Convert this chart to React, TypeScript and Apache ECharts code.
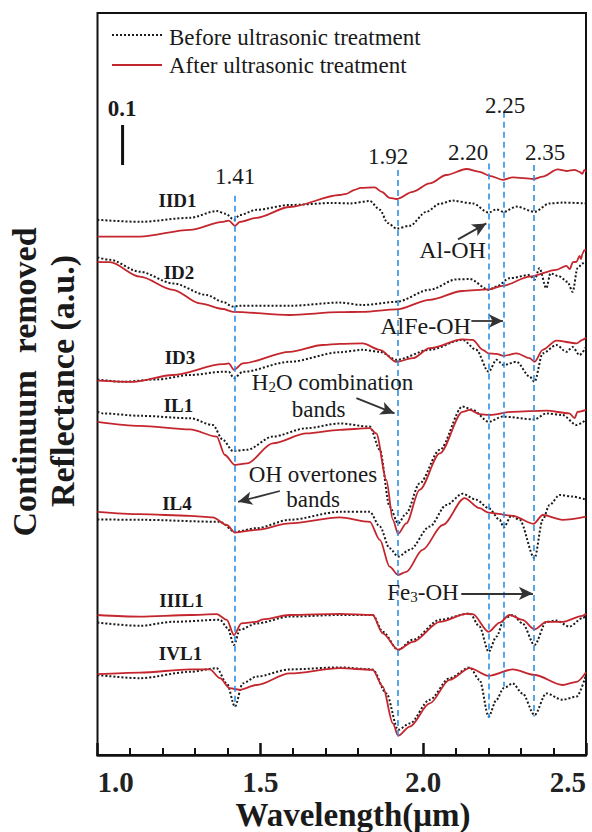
import React, { useEffect, useRef } from 'react';
import * as echarts from 'echarts';

// ---- data: [wavelength (µm), continuum-removed reflectance with vertical offset] ----
const IID1_before = [[1.0,1.338],[1.13,1.333],[1.284,1.343],[1.366,1.36],[1.394,1.353],[1.419,1.338],[1.437,1.35],[1.488,1.363],[1.59,1.375],[1.722,1.38],[1.775,1.379],[1.836,1.385],[1.867,1.363],[1.891,1.33],[1.918,1.316],[1.959,1.323],[2.01,1.358],[2.051,1.378],[2.09,1.386],[2.152,1.379],[2.201,1.356],[2.225,1.364],[2.247,1.358],[2.287,1.371],[2.342,1.358],[2.388,1.379],[2.428,1.381],[2.5,1.379]];
const IID1_after = [[1.0,1.296],[1.13,1.296],[1.284,1.313],[1.385,1.333],[1.403,1.336],[1.422,1.323],[1.437,1.333],[1.488,1.343],[1.59,1.37],[1.744,1.4],[1.764,1.403],[1.79,1.413],[1.808,1.418],[1.851,1.419],[1.873,1.408],[1.897,1.393],[1.918,1.39],[1.968,1.408],[2.02,1.429],[2.071,1.45],[2.133,1.465],[2.173,1.458],[2.204,1.448],[2.244,1.438],[2.275,1.444],[2.339,1.44],[2.367,1.446],[2.413,1.464],[2.44,1.46],[2.465,1.463],[2.48,1.458],[2.489,1.453],[2.495,1.463],[2.5,1.458]];
const ID2_before = [[1.0,1.244],[1.038,1.238],[1.13,1.208],[1.232,1.179],[1.335,1.15],[1.385,1.133],[1.416,1.121],[1.437,1.123],[1.59,1.123],[1.744,1.131],[1.814,1.125],[1.918,1.133],[2.02,1.163],[2.102,1.189],[2.143,1.19],[2.201,1.163],[2.225,1.171],[2.265,1.192],[2.327,1.2],[2.342,1.188],[2.357,1.217],[2.378,1.167],[2.391,1.204],[2.419,1.196],[2.443,1.183],[2.459,1.158],[2.474,1.217],[2.489,1.229],[2.5,1.233]];
const ID2_after = [[1.0,1.233],[1.038,1.232],[1.13,1.196],[1.232,1.163],[1.314,1.129],[1.385,1.115],[1.416,1.108],[1.59,1.1],[1.744,1.107],[1.814,1.108],[1.918,1.114],[2.02,1.138],[2.121,1.16],[2.201,1.164],[2.244,1.173],[2.327,1.196],[2.409,1.213],[2.44,1.223],[2.45,1.215],[2.46,1.232],[2.471,1.233],[2.48,1.248],[2.485,1.24],[2.489,1.253],[2.495,1.262],[2.5,1.263]];
const ID3_before = [[1.0,0.939],[1.078,0.933],[1.183,0.939],[1.284,0.95],[1.385,0.958],[1.403,0.958],[1.419,0.942],[1.446,0.958],[1.59,0.983],[1.744,1.007],[1.814,1.013],[1.867,1.008],[1.918,0.988],[2.02,1.013],[2.121,1.038],[2.163,1.013],[2.201,0.958],[2.225,0.988],[2.247,0.975],[2.287,0.983],[2.327,0.946],[2.342,0.933],[2.367,1.004],[2.409,1.025],[2.44,1.008],[2.459,1.02],[2.48,1.0],[2.5,1.02]];
const ID3_after = [[1.0,0.936],[1.109,0.933],[1.232,0.95],[1.385,0.977],[1.403,0.979],[1.419,0.963],[1.446,0.979],[1.59,1.008],[1.692,1.025],[1.744,1.028],[1.814,1.029],[1.867,1.013],[1.918,0.983],[1.968,0.992],[2.02,1.017],[2.121,1.039],[2.152,1.038],[2.183,1.013],[2.201,1.004],[2.225,1.003],[2.247,0.998],[2.287,1.004],[2.327,0.992],[2.342,0.983],[2.367,1.013],[2.409,1.036],[2.471,1.029],[2.489,1.038],[2.5,1.043]];
const IL1_before = [[1.0,0.858],[1.017,0.854],[1.13,0.848],[1.284,0.842],[1.354,0.825],[1.385,0.788],[1.416,0.76],[1.459,0.763],[1.538,0.796],[1.642,0.817],[1.744,0.829],[1.836,0.821],[1.867,0.763],[1.897,0.621],[1.923,0.579],[1.948,0.604],[1.989,0.679],[2.051,0.763],[2.121,0.871],[2.152,0.863],[2.201,0.833],[2.244,0.846],[2.342,0.839],[2.378,0.854],[2.428,0.85],[2.471,0.825],[2.5,0.838]];
const IL1_after = [[1.0,0.833],[1.13,0.823],[1.284,0.814],[1.366,0.796],[1.391,0.75],[1.422,0.725],[1.459,0.729],[1.538,0.779],[1.642,0.804],[1.744,0.813],[1.836,0.817],[1.856,0.804],[1.887,0.688],[1.907,0.588],[1.923,0.553],[1.948,0.579],[1.989,0.663],[2.051,0.754],[2.121,0.858],[2.143,0.863],[2.173,0.852],[2.204,0.85],[2.275,0.858],[2.378,0.861],[2.449,0.854],[2.465,0.842],[2.474,0.858],[2.5,0.863]];
const IL4_before = [[1.0,0.589],[1.13,0.588],[1.376,0.583],[1.422,0.558],[1.488,0.567],[1.59,0.588],[1.744,0.608],[1.836,0.608],[1.867,0.571],[1.897,0.517],[1.923,0.496],[1.959,0.513],[2.02,0.571],[2.071,0.625],[2.121,0.653],[2.163,0.638],[2.201,0.617],[2.235,0.588],[2.247,0.569],[2.271,0.598],[2.296,0.588],[2.342,0.492],[2.367,0.588],[2.388,0.625],[2.419,0.65],[2.459,0.646],[2.5,0.638]];
const IL4_after = [[1.0,0.608],[1.13,0.602],[1.284,0.598],[1.354,0.594],[1.397,0.575],[1.422,0.556],[1.488,0.563],[1.59,0.579],[1.744,0.594],[1.836,0.583],[1.867,0.538],[1.897,0.471],[1.923,0.45],[1.948,0.458],[1.998,0.513],[2.06,0.575],[2.127,0.642],[2.173,0.617],[2.201,0.606],[2.275,0.598],[2.339,0.578],[2.367,0.6],[2.428,0.588],[2.5,0.596]];
const IIIL1_before = [[1.0,0.331],[1.13,0.323],[1.232,0.333],[1.376,0.338],[1.4,0.317],[1.419,0.275],[1.437,0.313],[1.488,0.329],[1.59,0.346],[1.744,0.35],[1.845,0.35],[1.876,0.308],[1.923,0.263],[1.968,0.288],[2.051,0.338],[2.143,0.354],[2.173,0.321],[2.201,0.258],[2.225,0.296],[2.25,0.342],[2.275,0.35],[2.305,0.329],[2.342,0.275],[2.378,0.333],[2.409,0.336],[2.449,0.321],[2.489,0.342],[2.5,0.348]];
const IIIL1_after = [[1.0,0.35],[1.13,0.346],[1.284,0.35],[1.366,0.352],[1.397,0.338],[1.419,0.3],[1.442,0.329],[1.488,0.333],[1.508,0.339],[1.59,0.35],[1.744,0.353],[1.845,0.35],[1.876,0.304],[1.923,0.263],[1.968,0.283],[2.051,0.333],[2.133,0.353],[2.152,0.352],[2.201,0.308],[2.235,0.331],[2.265,0.35],[2.305,0.338],[2.342,0.314],[2.378,0.333],[2.428,0.333],[2.489,0.348],[2.5,0.353]];
const IVL1_before = [[1.0,0.2],[1.13,0.192],[1.284,0.208],[1.366,0.217],[1.397,0.179],[1.422,0.121],[1.446,0.179],[1.488,0.196],[1.59,0.214],[1.744,0.219],[1.845,0.214],[1.887,0.154],[1.923,0.063],[1.959,0.079],[2.02,0.138],[2.081,0.192],[2.143,0.219],[2.173,0.188],[2.201,0.096],[2.225,0.138],[2.247,0.167],[2.275,0.179],[2.305,0.154],[2.342,0.1],[2.378,0.154],[2.428,0.138],[2.471,0.146],[2.5,0.2]];
const IVL1_after = [[1.0,0.202],[1.13,0.206],[1.284,0.214],[1.345,0.214],[1.376,0.192],[1.406,0.167],[1.437,0.163],[1.488,0.175],[1.59,0.204],[1.744,0.217],[1.845,0.213],[1.876,0.171],[1.907,0.079],[1.923,0.048],[1.959,0.071],[2.02,0.129],[2.081,0.188],[2.143,0.217],[2.201,0.198],[2.275,0.214],[2.342,0.2],[2.428,0.175],[2.471,0.183],[2.5,0.207]];

const sampleNames = ['IID1', 'ID2', 'ID3', 'IL1', 'IL4', 'IIIL1', 'IVL1'];
const beforeCurves = [IID1_before, ID2_before, ID3_before, IL1_before, IL4_before, IIIL1_before, IVL1_before];
const afterCurves = [IID1_after, ID2_after, ID3_after, IL1_after, IL4_after, IIIL1_after, IVL1_after];

const peakLabels = ['1.41', '1.92', '2.20', '2.25', '2.35'];
const peakWavelengths = [1.421, 1.922, 2.201, 2.248, 2.341];
const peakTop = [1.398, 1.4625, 1.479, 1.608, 1.475];
const peakBottom = [0.12, 0.046, 0.0925, 0.171, 0.096];

const arrowStarts = [[2.107, 1.289], [2.148, 1.085], [1.795, 0.892], [1.56, 0.66], [2.117, 0.404]];
const arrowEnds = [[2.194, 1.329], [2.245, 1.085], [1.912, 0.854], [1.432, 0.633], [2.337, 0.404]];

const scaleBar = [[1.077, 1.475], [1.077, 1.575]];
const xTicks = [1.0, 1.5, 2.0, 2.5];

const FONT = '"Liberation Serif", "Times New Roman", serif';
const RED = '#c4262e';
const DOT = '#1a1a1a';
const BLUE = '#2f8fe3';

export default function App() {
  const ref = useRef<HTMLDivElement>(null);

  useEffect(() => {
    const chart = echarts.init(ref.current!, null, { renderer: 'svg' });

    const series: any[] = [];
    sampleNames.forEach((name, i) => {
      series.push({
        type: 'line',
        name: name + ' before',
        data: beforeCurves[i],
        symbol: 'none',
        smooth: 0.3,
        smoothMonotone: 'x',
        silent: true,
        lineStyle: { color: DOT, width: 2, type: [2, 2] },
        z: 3,
      });
      series.push({
        type: 'line',
        name: name + ' after',
        data: afterCurves[i],
        symbol: 'none',
        smooth: 0.3,
        smoothMonotone: 'x',
        silent: true,
        lineStyle: { color: RED, width: 1.8 },
        z: 4,
      });
    });

    series.push({
      type: 'line',
      name: 'scale',
      data: scaleBar,
      symbol: 'none',
      silent: true,
      lineStyle: { color: '#111', width: 3 },
      markLine: {
        silent: true,
        symbol: ['none', 'none'],
        label: { show: false },
        lineStyle: { color: BLUE, width: 1.6, type: [6, 4] },
        data: peakWavelengths.map((w, i) => [
          { coord: [w, peakTop[i]] },
          { coord: [w, peakBottom[i]] },
        ]),
      },
      z: 2,
    });

    series.push({
      type: 'line',
      name: 'arrows',
      data: [],
      symbol: 'none',
      silent: true,
      markLine: {
        silent: true,
        symbol: ['none', 'arrow'],
        symbolSize: [10, 14],
        label: { show: false },
        lineStyle: { color: '#333', width: 1.8, type: 'solid' },
        data: arrowStarts.map((s, i) => [{ coord: s }, { coord: arrowEnds[i] }]),
      },
      z: 5,
    });

    const txt = (x: number, y: number, text: string, size: number, bold = false, extra: any = {}, rotation = 0) => ({
      type: 'text',
      x,
      y,
      rotation,
      silent: true,
      z: 20,
      style: {
        text,
        fill: '#1a1a1a',
        fontFamily: FONT,
        fontSize: size,
        fontWeight: bold ? 'bold' : 'normal',
        align: 'center',
        verticalAlign: 'middle',
        ...extra,
      },
    });

    const sub = (x: number, y: number, a: string, s: string, b: string) => ({
      type: 'text', x, y, silent: true, z: 20,
      style: {
        text: `{a|${a}}{b|${s}}{a|${b}}`,
        align: 'center', verticalAlign: 'middle', fill: '#1a1a1a',
        rich: {
          a: { fontFamily: FONT, fontSize: 23, lineHeight: 22, verticalAlign: 'bottom', fill: '#1a1a1a' },
          b: { fontFamily: FONT, fontSize: 15, lineHeight: 3, verticalAlign: 'bottom', fill: '#1a1a1a' },
        },
      },
    });

    const sampleLabelPos = [[177.5, 200], [179, 272], [180, 357], [178.5, 405], [177, 503], [181.5, 600], [180.5, 653]];
    const peakLabelPos = [[235, 176], [388, 156], [468, 152], [505, 105], [545, 152]];

    const graphic: any[] = [
      // legend
      { type: 'line', silent: true, shape: { x1: 112, y1: 35, x2: 162, y2: 35 }, style: { stroke: DOT, lineWidth: 2, lineDash: [2, 2] } },
      { type: 'line', silent: true, shape: { x1: 112, y1: 65, x2: 162, y2: 65 }, style: { stroke: RED, lineWidth: 1.8 } },
      txt(169, 37, 'Before ultrasonic treatment', 23, false, { align: 'left' }),
      txt(169, 65, 'After ultrasonic treatment', 23, false, { align: 'left' }),
      // scale bar label
      txt(122, 108, '0.1', 23, true),
      // y-axis title
      txt(24, 382, 'Continuum  removed', 34, true, {}, Math.PI / 2),
      txt(62, 381, 'Reflectance (a.u.)', 34, true, {}, Math.PI / 2),
      // x-axis title
      txt(353, 815, 'Wavelength(μm)', 33, true),
      // annotations
      txt(452.5, 250, 'Al-OH', 24),
      txt(425.5, 326, 'AlFe-OH', 24),
      sub(332.5, 383, 'H', '2', 'O combination'),
      txt(318.5, 409, 'bands', 23),
      txt(313, 474, 'OH overtones', 23),
      txt(313, 499, 'bands', 23),
      sub(423, 593, 'Fe', '3', '-OH'),
    ];
    sampleNames.forEach((n, i) => graphic.push(txt(sampleLabelPos[i][0], sampleLabelPos[i][1], n, 19, true)));
    peakLabels.forEach((p, i) => graphic.push(txt(peakLabelPos[i][0], peakLabelPos[i][1], p, 23)));

    chart.setOption({
      animation: false,
      backgroundColor: '#ffffff',
      grid: { left: 97.5, right: 6, top: 13, bottom: 77, show: true, borderColor: '#111', borderWidth: 2, backgroundColor: 'transparent' },
      xAxis: {
        type: 'value',
        min: 1.0,
        max: 2.5,
        interval: 0.5,
        axisLine: { show: true, lineStyle: { color: '#111', width: 2.5 } },
        axisTick: { show: true, inside: true, length: 12, lineStyle: { color: '#111', width: 2.5 } },
        minorTick: { show: true, splitNumber: 5, length: 7, lineStyle: { color: '#111', width: 2 } },
        splitLine: { show: false },
        minorSplitLine: { show: false },
        axisLabel: {
          fontFamily: FONT,
          fontWeight: 'bold',
          fontSize: 29,
          color: '#222',
          margin: 12,
          alignMinLabel: 'left',
          alignMaxLabel: 'right',
          formatter: (v: number) => (xTicks.some((t) => Math.abs(t - v) < 1e-6) ? v.toFixed(1) : ''),
        },
      },
      yAxis: {
        type: 'value',
        min: 0,
        max: 1.855,
        axisLine: { show: false },
        axisTick: { show: false },
        axisLabel: { show: false },
        splitLine: { show: false },
      },
      series,
      graphic,
    });

    return () => chart.dispose();
  }, []);

  return <div ref={ref} style={{ position: 'absolute', left: 0, top: 0, width: 592, height: 832 }} />;
}
